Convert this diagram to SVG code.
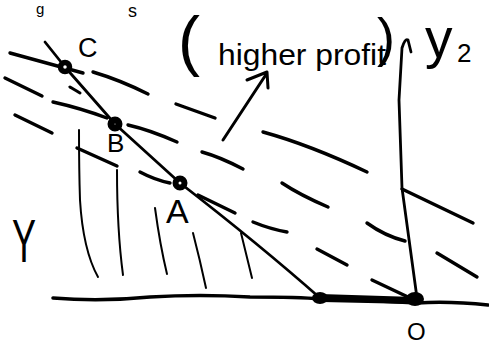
<svg xmlns="http://www.w3.org/2000/svg" width="489" height="347" viewBox="0 0 489 347">
<style>
.s{fill:none;stroke:#000;stroke-linecap:round;stroke-linejoin:round}
.d{stroke-width:3.4}
.h{stroke-width:2}
.t{font-family:"Liberation Sans",Arial,sans-serif;fill:#000}
.pt{fill:#fff;stroke:#000}
</style>
<rect width="489" height="347" fill="#fff"/>
<g id="fragments">
<text class="t" x="36" y="14" font-size="15">g</text>
<text class="t" x="128" y="17" font-size="18">s</text>
</g>
<g id="connectors">
<g id="axes">
<path class="s" stroke-width="3.5" d="M53,298 Q100,302 150,297 Q200,294 250,297 Q300,297 320,299 Q370,300 417,303 Q450,301 488,305"/>
<path class="s" stroke-width="4" d="M320,296 L415,299 M322,300 L413,302"/>
<path class="s" stroke-width="2.8" d="M417,298 L402,188 L399,100 L402,48 Q405,38 408,40 L411,52"/>
</g>
<g id="constraint">
<path class="s" stroke-width="2.8" d="M45,42 L65,67 L115,124 L180,183 Q260,245 320,298"/>
<path class="s" stroke-width="3" d="M70,87 L80,93"/>
</g>
<g id="isoprofit">
<path class="s d" d="M10,53 L83,73 M93,72 Q120,80 148,94 M176,104 L215,118 M263,132 Q310,145 367,172 M402,189 L473,223"/>
<path class="s d" d="M5,78 L42,96 M53,102 Q80,108 107,118 M128,125 Q150,130 177,142 M202,152 Q220,157 243,169 M282,183 Q300,195 328,207 M367,223 Q385,236 405,241 M437,253 L477,277"/>
<path class="s d" d="M15,115 L52,133 M77,148 L117,166 M140,172 Q155,180 170,183 M198,195 L235,213 M253,222 Q270,229 287,232 M317,249 L347,265 M372,280 L408,297"/>
</g>
<g id="hatching">
<path class="s h" d="M79,130 Q79,170 80,200 Q83,250 98,277"/>
<path class="s h" d="M117,170 Q117,230 123,275"/>
<path class="s h" d="M155,208 Q160,245 167,274"/>
<path class="s h" d="M193,233 Q200,260 206,288"/>
<path class="s h" d="M241,233 L252,278"/>
</g>
<g id="arrow">
<path class="s" stroke-width="3" d="M223,140 L267,73 M247,80 L267,72 L268,88"/>
</g>
</g>
<g id="point-C"><circle class="pt" cx="65" cy="67" r="4.5" style="stroke-width:5.5"/></g>
<g id="point-B"><circle class="pt" cx="115" cy="124" r="4" style="stroke-width:7"/></g>
<g id="point-A"><circle class="pt" cx="180" cy="183" r="4.5" style="stroke-width:6"/></g>
<g id="point-D"><ellipse cx="320" cy="298" rx="8" ry="6" fill="#000"/></g>
<g id="point-O"><ellipse cx="415" cy="299" rx="9" ry="7" fill="#000"/></g>
<g id="labels">
<text class="t" x="78" y="57" font-size="27">C</text>
<text class="t" x="107" y="152" font-size="26">B</text>
<text class="t" x="166" y="223" font-size="34">A</text>
<text class="t" x="12" y="262" font-size="62" textLength="24" lengthAdjust="spacingAndGlyphs">Y</text>
<text class="t" x="407" y="340" font-size="24">O</text>
<text class="t" x="178" y="63" font-size="66">(</text>
<text class="t" x="218" y="65" font-size="30" textLength="168" lengthAdjust="spacingAndGlyphs">higher profit</text>
<text class="t" x="377" y="56" font-size="54">)</text>
<text class="t" x="425" y="57" font-size="55">y</text>
<text class="t" x="457" y="62" font-size="26">2</text>
</g>
</svg>
